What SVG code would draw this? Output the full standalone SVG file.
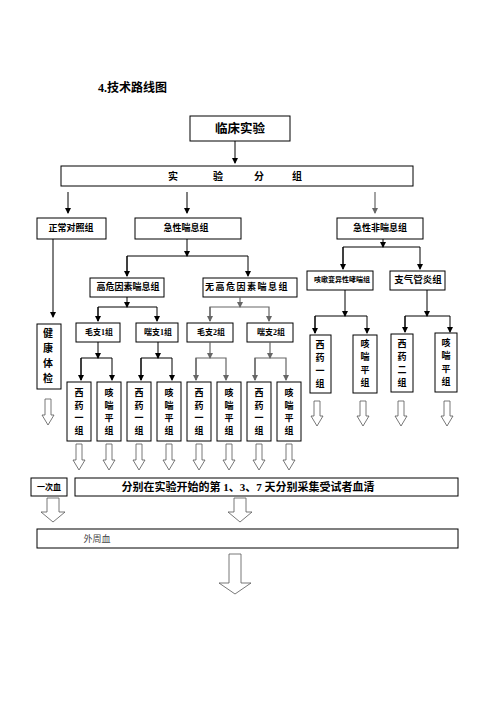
<svg xmlns="http://www.w3.org/2000/svg" width="496" height="702" viewBox="0 0 496 702">
<defs>
<marker id="ah" markerUnits="userSpaceOnUse" markerWidth="6" markerHeight="6" refX="5" refY="3" orient="auto"><path d="M0,0 L6,3 L0,6 Z" fill="#000"/></marker>
<marker id="ahg" markerUnits="userSpaceOnUse" markerWidth="6" markerHeight="6" refX="5" refY="3" orient="auto"><path d="M0,0 L6,3 L0,6 Z" fill="#666"/></marker>
<style>
.box{fill:#fff;stroke:#000;stroke-width:1}
.ln{fill:none;stroke:#000;stroke-width:1}
.lg{fill:none;stroke:#666;stroke-width:1.2}
.hol{fill:#fff;stroke:#555;stroke-width:0.8}
text{font-family:"Liberation Serif","Noto Sans CJK SC",serif;font-weight:bold;text-anchor:middle;dominant-baseline:central;fill:#000}
.v{font-size:9px}
.s{font-size:9px}
</style>
</defs>
<rect width="496" height="702" fill="#fff"/>
<text x="98" y="88" style="font-size:12px;text-anchor:start">4.技术路线图</text>

<g id="n-linchuang"><rect class="box" x="190" y="116" width="100" height="25"/><text x="240" y="129" style="font-size:12.5px">临床实验</text></g>
<g id="n-fenzu"><rect class="box" x="61" y="166" width="352" height="20"/>
<text x="173" y="176" style="font-size:10px">实</text><text x="218" y="176" style="font-size:10px">验</text><text x="259" y="176" style="font-size:10px">分</text><text x="297" y="176" style="font-size:10px">组</text></g>
<g id="n-zhengchang"><rect class="box" x="37" y="218" width="69" height="21"/><text class="s" x="71" y="228">正常对照组</text></g>
<g id="n-jixingchuanxi"><rect class="box" x="135" y="218" width="106" height="21"/><text class="s" x="186" y="228">急性喘息组</text></g>
<g id="n-feichuanxi"><rect class="box" x="337" y="218" width="86" height="21"/><text class="s" x="380" y="228">急性非喘息组</text></g>
<g id="n-gaowei"><rect class="box" x="90" y="278" width="74" height="19"/><text class="s" x="128" y="287">高危因素喘息组</text></g>
<g id="n-wugaowei"><rect class="box" x="203" y="278" width="94" height="19"/><text class="s" x="247" y="287" style="letter-spacing:1.5px">无高危因素喘息组</text></g>
<g id="n-kesou"><rect class="box" x="307" y="271" width="66" height="19"/><text x="342" y="280" style="font-size:7px">咳嗽变异性哮喘组</text></g>
<g id="n-zhiqiguan"><rect class="box" x="390" y="271" width="55" height="19"/><text x="418" y="280" style="font-size:9.5px">支气管炎组</text></g>
<g id="n-jiankang"><rect class="box" x="37" y="324" width="24" height="65"/><text x="48" y="333" style="font-size:10px">健</text><text x="48" y="348" style="font-size:10px">康</text><text x="48" y="363" style="font-size:10px">体</text><text x="48" y="378" style="font-size:10px">检</text></g>
<g id="n-mz1"><rect class="box" x="76" y="323" width="44" height="19"/><text x="99" y="332" style="font-size:8px">毛支1组</text></g>
<g id="n-cz1"><rect class="box" x="136" y="323" width="42" height="19"/><text x="158" y="332" style="font-size:8px">喘支1组</text></g>
<g id="n-mz2"><rect class="box" x="187" y="323" width="46" height="19"/><text x="211" y="332" style="font-size:8px">毛支2组</text></g>
<g id="n-cz2"><rect class="box" x="247" y="323" width="46" height="19"/><text x="271" y="332" style="font-size:8px">喘支2组</text></g>

<g id="n-a1"><rect class="box" x="67" y="382" width="24" height="59"/><text class="v" x="79" y="393">西</text><text class="v" x="79" y="406">药</text><text class="v" x="79" y="418">一</text><text class="v" x="79" y="431">组</text></g>
<g id="n-a2"><rect class="box" x="97" y="382" width="24" height="59"/><text class="v" x="109" y="393">咳</text><text class="v" x="109" y="406">喘</text><text class="v" x="109" y="418">平</text><text class="v" x="109" y="431">组</text></g>
<g id="n-a3"><rect class="box" x="127" y="382" width="24" height="59"/><text class="v" x="139" y="393">西</text><text class="v" x="139" y="406">药</text><text class="v" x="139" y="418">一</text><text class="v" x="139" y="431">组</text></g>
<g id="n-a4"><rect class="box" x="157" y="382" width="24" height="59"/><text class="v" x="169" y="393">咳</text><text class="v" x="169" y="406">喘</text><text class="v" x="169" y="418">平</text><text class="v" x="169" y="431">组</text></g>
<g id="n-a5"><rect class="box" x="187" y="382" width="24" height="59"/><text class="v" x="199" y="393">西</text><text class="v" x="199" y="406">药</text><text class="v" x="199" y="418">一</text><text class="v" x="199" y="431">组</text></g>
<g id="n-a6"><rect class="box" x="217" y="382" width="24" height="59"/><text class="v" x="229" y="393">咳</text><text class="v" x="229" y="406">喘</text><text class="v" x="229" y="418">平</text><text class="v" x="229" y="431">组</text></g>
<g id="n-a7"><rect class="box" x="247" y="382" width="24" height="59"/><text class="v" x="259" y="393">西</text><text class="v" x="259" y="406">药</text><text class="v" x="259" y="418">一</text><text class="v" x="259" y="431">组</text></g>
<g id="n-a8"><rect class="box" x="277" y="382" width="24" height="59"/><text class="v" x="289" y="393">咳</text><text class="v" x="289" y="406">喘</text><text class="v" x="289" y="418">平</text><text class="v" x="289" y="431">组</text></g>

<g id="n-b1"><rect class="box" x="310" y="335" width="21" height="58"/><text class="v" x="320" y="345">西</text><text class="v" x="320" y="358">药</text><text class="v" x="320" y="371">一</text><text class="v" x="320" y="384">组</text></g>
<g id="n-b2"><rect class="box" x="353" y="335" width="24" height="58"/><text class="v" x="365" y="344">咳</text><text class="v" x="365" y="357">喘</text><text class="v" x="365" y="370">平</text><text class="v" x="365" y="383">组</text></g>
<g id="n-b3"><rect class="box" x="391" y="334" width="22" height="58"/><text class="v" x="402" y="344">西</text><text class="v" x="402" y="357">药</text><text class="v" x="402" y="370">二</text><text class="v" x="402" y="383">组</text></g>
<g id="n-b4"><rect class="box" x="435" y="333" width="22" height="59"/><text class="v" x="446" y="343">咳</text><text class="v" x="446" y="356">喘</text><text class="v" x="446" y="369">平</text><text class="v" x="446" y="382">组</text></g>

<g id="n-yici"><rect class="box" x="31" y="478" width="36" height="18"/><text x="49" y="487" style="font-size:8px">一次血</text></g>
<g id="n-caiji"><rect class="box" x="75" y="478" width="383" height="18"/><text x="248" y="487" style="font-size:11px">分别在实验开始的第 1、3、7 天分别采集受试者血清</text></g>
<g id="n-waizhou"><rect class="box" x="37" y="529" width="421" height="19"/><text x="97" y="539" style="font-size:9px;font-weight:normal;fill:#444">外周血</text></g>

<g id="connectors">
<path class="ln" d="M235,141 V163" marker-end="url(#ah)"/>
<path class="ln" d="M68,192 V213" marker-end="url(#ah)"/>
<path class="ln" d="M187,192 V213" marker-end="url(#ah)"/>
<path class="lg" d="M375,192 V213" marker-end="url(#ahg)"/>
<path class="ln" d="M53,239 V317" marker-end="url(#ah)"/>
<path class="ln" d="M187,239 V256" marker-end="url(#ah)"/>
<path class="ln" d="M127,276 V256 H248 V276" marker-end="url(#ah)"/>
<path class="ln" d="M127,256 V276" marker-end="url(#ah)"/>
<path class="ln" d="M127,297 V307" marker-end="url(#ah)"/>
<path class="ln" d="M98,321 V307 H157 V321" marker-end="url(#ah)"/>
<path class="ln" d="M98,307 V321" marker-end="url(#ah)"/>
<path class="lg" d="M240,297 V307" marker-end="url(#ahg)"/>
<path class="lg" d="M210,321 V307 H269 V321" marker-end="url(#ahg)"/>
<path class="lg" d="M210,307 V321" marker-end="url(#ahg)"/>
<path class="ln" d="M98,342 V358" marker-end="url(#ah)"/>
<path class="ln" d="M81,380 V358 H112 V380" marker-end="url(#ah)"/>
<path class="ln" d="M81,358 V380" marker-end="url(#ah)"/>
<path class="ln" d="M158,342 V358" marker-end="url(#ah)"/>
<path class="ln" d="M141,380 V358 H172 V380" marker-end="url(#ah)"/>
<path class="ln" d="M141,358 V380" marker-end="url(#ah)"/>
<path class="lg" d="M210,342 V358" marker-end="url(#ahg)"/>
<path class="lg" d="M196,380 V358 H226 V380" marker-end="url(#ahg)"/>
<path class="lg" d="M196,358 V380" marker-end="url(#ahg)"/>
<path class="lg" d="M270,342 V358" marker-end="url(#ahg)"/>
<path class="lg" d="M255,380 V358 H286 V380" marker-end="url(#ahg)"/>
<path class="lg" d="M255,358 V380" marker-end="url(#ahg)"/>
<path class="ln" d="M383,239 V247" marker-end="url(#ah)"/>
<path class="ln" d="M343,269 V247 H420 V269" marker-end="url(#ah)"/>
<path class="ln" d="M343,247 V269" marker-end="url(#ah)"/>
<path class="ln" d="M345,290 V316" marker-end="url(#ah)"/>
<path class="ln" d="M315,333 V316 H367 V333" marker-end="url(#ah)"/>
<path class="ln" d="M315,316 V333" marker-end="url(#ah)"/>
<path class="ln" d="M427,290 V316" marker-end="url(#ah)"/>
<path class="ln" d="M405,332 V316 H450 V332" marker-end="url(#ah)"/>
<path class="ln" d="M405,316 V332" marker-end="url(#ah)"/>

<path class="hol" d="M45,399 h6 v16 h3 l-6,10 l-6,-10 h3 Z"/>
<path class="hol" d="M76,444 h6 v16 h3 l-6,10 l-6,-10 h3 Z"/>
<path class="hol" d="M106,444 h6 v16 h3 l-6,10 l-6,-10 h3 Z"/>
<path class="hol" d="M136,444 h6 v16 h3 l-6,10 l-6,-10 h3 Z"/>
<path class="hol" d="M166,444 h6 v16 h3 l-6,10 l-6,-10 h3 Z"/>
<path class="hol" d="M196,444 h6 v16 h3 l-6,10 l-6,-10 h3 Z"/>
<path class="hol" d="M226,444 h6 v16 h3 l-6,10 l-6,-10 h3 Z"/>
<path class="hol" d="M256,444 h6 v16 h3 l-6,10 l-6,-10 h3 Z"/>
<path class="hol" d="M286,444 h6 v16 h3 l-6,10 l-6,-10 h3 Z"/>
<path class="hol" d="M314,401 h6 v15 h3 l-6,10 l-6,-10 h3 Z"/>
<path class="hol" d="M360,401 h6 v15 h3 l-6,10 l-6,-10 h3 Z"/>
<path class="hol" d="M398,401 h6 v15 h3 l-6,10 l-6,-10 h3 Z"/>
<path class="hol" d="M444,401 h6 v15 h3 l-6,10 l-6,-10 h3 Z"/>
<path class="hol" d="M47,498 h12 v14 h6 l-12,10 l-12,-10 h6 Z"/>
<path class="hol" d="M234,498 h12 v14 h6 l-12,10 l-12,-10 h6 Z"/>
<path class="hol" d="M229,554 h12 v29 h10 l-16,11 l-16,-11 h10 Z"/>
</g>
</svg>
